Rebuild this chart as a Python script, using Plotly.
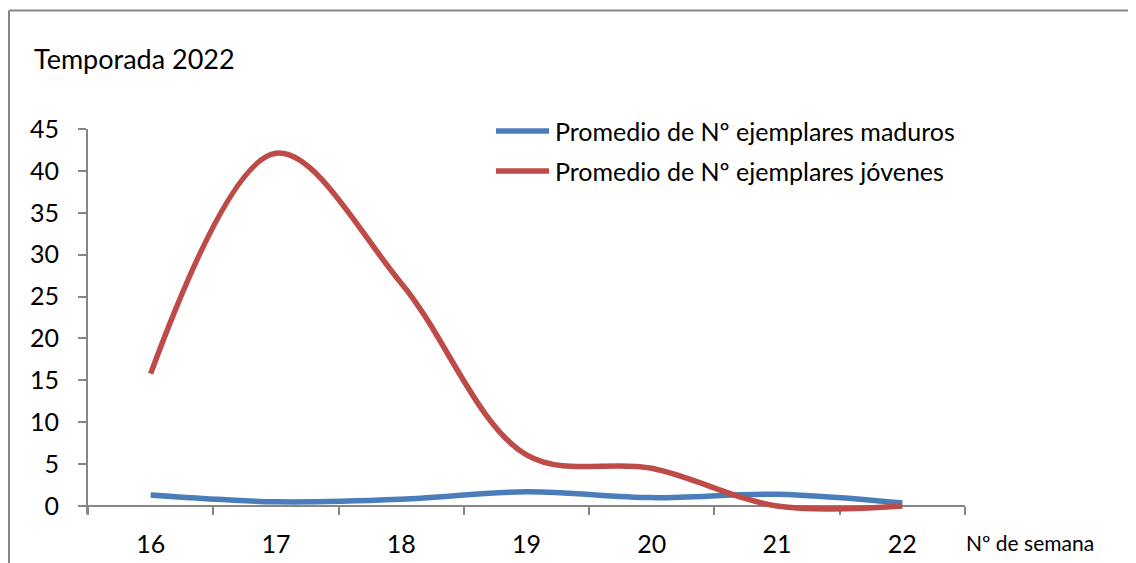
import plotly.graph_objects as go

semanas = ["16", "17", "18", "19", "20", "21", "22"]
maduros = [1.3, 0.5, 0.8, 1.7, 1.0, 1.4, 0.35]
jovenes = [15.8, 42.1, 26.6, 6.1, 4.5, 0.0, 0.0]
nombre_maduros = "Promedio de Nº ejemplares maduros"
nombre_jovenes = "Promedio de Nº ejemplares jóvenes"
titulo = "Temporada 2022"
eje_x = "Nº de semana"
y_ticks = [0, 5, 10, 15, 20, 25, 30, 35, 40, 45]

OFF = 8  # body margin of the html page
W, H = 1136 - OFF, 563 - OFF
L, R, T, B = 88, 965, 129, 506  # plot area in page pixels (y=0 at B)
B2 = 514  # extended plot bottom so the line at 0 is not clipped
Y_MAX = 45
scale = (B - T) / Y_MAX
Y_MIN = -(B2 - B) / scale
FONT = "Lato"
AXIS_COLOR = "#868686"
BLUE = "#4A7EBB"
RED = "#BE4B48"


def px(x):
    return (x - L) / (R - L)


def py(y):
    return (B2 - y) / (B2 - T)


fig = go.Figure()
fig.add_trace(go.Scatter(x=semanas, y=maduros, mode="lines", name=nombre_maduros,
                         line=dict(color=BLUE, width=5.5, shape="spline", smoothing=1.0),
                         showlegend=False))
fig.add_trace(go.Scatter(x=semanas, y=jovenes, mode="lines", name=nombre_jovenes,
                         line=dict(color=RED, width=5.5, shape="spline", smoothing=1.0),
                         showlegend=False))

shapes = []
shapes.append(dict(type="line", xref="paper", yref="paper", x0=px(9), x1=px(1140),
                   y0=py(10.5), y1=py(10.5), line=dict(color=AXIS_COLOR, width=2)))
shapes.append(dict(type="line", xref="paper", yref="paper", x0=px(9), x1=px(9),
                   y0=py(10.5), y1=py(570), line=dict(color=AXIS_COLOR, width=2)))
annotations = []
for i, (name, col) in enumerate([(nombre_maduros, BLUE), (nombre_jovenes, RED)]):
    yy = 131 + 40 * i
    shapes.append(dict(type="line", xref="paper", yref="paper", x0=px(496), x1=px(549),
                       y0=py(yy), y1=py(yy), line=dict(color=col, width=5.5)))
    annotations.append(dict(text=name, xref="paper", yref="paper", x=px(553), y=py(yy),
                            xanchor="left", yanchor="middle", showarrow=False,
                            font=dict(family=FONT, size=25, color="#000000")))

annotations.append(dict(text=titulo, xref="paper", yref="paper", x=px(32), y=py(59),
                        xanchor="left", yanchor="middle", showarrow=False,
                        font=dict(family=FONT, size=27, color="#000000")))
annotations.append(dict(text=eje_x, xref="paper", yref="paper", x=px(964), y=py(542),
                        xanchor="left", yanchor="middle", showarrow=False,
                        font=dict(family=FONT, size=21, color="#000000")))

fig.update_layout(
    width=W, height=H,
    margin=dict(l=L - OFF, r=W - (R - OFF), t=T - OFF, b=H - (B2 - OFF), pad=0),
    paper_bgcolor="white", plot_bgcolor="white",
    shapes=shapes, annotations=annotations,
    xaxis=dict(type="category", range=[-0.5, 6.5], showgrid=False, zeroline=False,
               automargin=False, layer="below traces",
               anchor="free", position=py(B),
               showline=True, linecolor=AXIS_COLOR, linewidth=2,
               ticks="outside", tickson="boundaries", ticklen=8, tickwidth=2,
               tickcolor=AXIS_COLOR, ticklabelstandoff=16,
               tickfont=dict(family=FONT, size=25, color="#000000")),
    yaxis=dict(range=[Y_MIN, Y_MAX], tickvals=y_ticks, showgrid=False, zeroline=False,
               automargin=False, layer="below traces",
               showline=True, linecolor=AXIS_COLOR, linewidth=2,
               ticks="outside", ticklen=8, tickwidth=2, tickcolor=AXIS_COLOR,
               ticklabelstandoff=14,
               tickfont=dict(family=FONT, size=25, color="#000000")),
)

fig.write_html("out.html")
